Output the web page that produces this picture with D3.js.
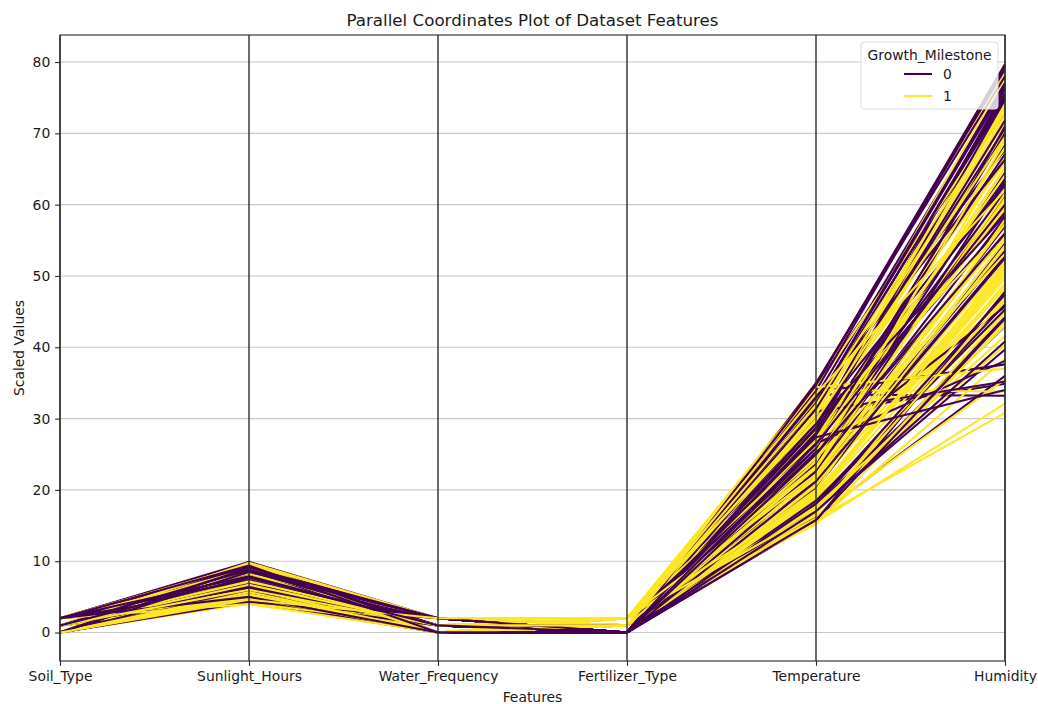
<!DOCTYPE html>
<html>
<head>
<meta charset="utf-8">
<script src="https://cdn.jsdelivr.net/npm/d3@7"></script>
<style>
  body { margin: 0; background: #fff; }
  svg { display: block; }
  text { font-family: "DejaVu Sans", sans-serif; fill: #1a1a1a; }
</style>
</head>
<body>
<svg id="chart" width="1038" height="704"></svg>
<script>
const features = ["Soil_Type", "Sunlight_Hours", "Water_Frequency", "Fertilizer_Type", "Temperature", "Humidity"];
const classLabels = ["0", "1"];
const yTicks = [0, 10, 20, 30, 40, 50, 60, 70, 80];

const growthMilestone = [
  1,0,1,0,1,1,0,0,1,0, 1,0,1,1,0,1,0,0,1,1, 0,1,0,1,1,0,0,1,0,1, 1,0,1,0,0,1,1,0,1,0,
  0,1,1,0,1,0,1,0,0,1, 1,0,0,1,1,0,1,1,0,0, 1,0,1,0,1,1,0,1,0,0, 1,1,0,1,0,0,1,0,1,1,
  0,0,1,1,0,1,0,1,0,1, 1,0,1,0,0,1,1,0,1,0, 0,1,0,1,1,0,1,0,0,1, 1,0,1,1,0,0,1,0,1,0
];
const soilType = [
  2,0,1,2,0,1,2,1,0,0, 1,2,0,1,2,0,1,0,2,1, 0,2,1,0,1,2,0,2,1,0, 2,1,0,2,1,0,1,2,0,1,
  2,0,1,1,0,2,1,0,2,0, 1,2,0,1,2,0,0,1,2,1, 0,2,1,0,2,1,0,1,2,0, 1,0,2,1,0,2,1,0,1,2,
  0,1,2,0,1,0,2,1,0,2, 1,2,0,1,0,2,1,0,2,1, 0,1,2,0,1,2,0,1,2,0, 1,0,2,1,2,0,1,2,0,1
];
const sunlightHours = [
  5.2,8.1,4.6,9.7,6.3,7.8,5.9,4.2,8.9,6.7, 9.3,4.8,7.1,5.5,9.9,6.0,4.4,8.4,7.6,5.0,
  6.9,9.1,4.1,7.3,8.6,5.7,9.5,4.9,6.4,8.0, 7.0,5.3,9.8,4.5,6.6,8.3,5.1,9.2,7.4,4.3,
  6.1,8.8,5.6,9.6,4.7,7.7,6.2,8.5,5.4,9.0, 4.0,7.9,6.8,5.8,9.4,4.6,8.2,7.2,5.0,6.5,
  9.7,4.9,8.7,6.0,5.3,7.5,9.9,4.4,6.9,8.1, 5.6,7.0,4.2,9.3,6.3,8.9,5.1,7.8,4.8,9.0,
  6.6,5.9,8.4,4.1,7.3,9.6,5.5,6.1,8.6,4.7, 7.1,9.2,5.2,6.8,4.5,8.3,7.6,5.8,9.5,6.4,
  4.3,8.0,7.4,5.7,9.8,6.2,4.9,8.8,7.9,5.4, 6.7,9.1,4.0,7.2,5.0,8.5,6.0,9.4,4.6,7.7
];
const waterFrequency = [
  1,2,0,0,1,2,0,1,2,0, 0,1,2,1,0,2,1,0,0,2, 1,0,2,1,0,0,2,1,0,1, 2,0,1,2,0,1,0,2,1,0,
  1,2,0,0,1,2,1,0,2,1, 0,0,1,2,1,0,2,0,1,2, 0,1,2,0,1,0,2,1,0,1, 2,1,0,0,2,1,0,2,1,0,
  1,0,2,1,0,2,1,0,1,2, 0,1,0,2,1,0,1,2,0,1, 2,0,1,0,2,1,0,2,1,0, 1,2,0,1,0,2,1,0,2,1
];
const fertilizerType = [
  2,0,1,0,2,1,0,1,0,0, 1,0,2,2,0,1,0,2,1,2, 0,1,0,2,0,1,0,1,0,2, 1,0,2,0,0,1,2,0,1,0,
  0,2,1,1,2,0,1,0,0,2, 1,0,0,2,1,0,2,0,0,1, 2,0,1,0,1,2,0,1,0,0, 1,2,0,1,0,0,2,0,1,2,
  0,0,2,1,0,1,0,2,0,1, 1,0,2,0,0,2,1,0,1,0, 0,1,0,2,1,0,2,0,1,1, 2,0,1,2,0,0,1,0,2,0
];
const temperature = [
  22.4,31.8,18.7,27.3,34.1,20.5,25.9,16.2,29.6,33.4, 19.8,24.6,30.2,17.5,28.9,35.0,21.3,26.7,15.9,32.5,
  23.8,18.3,34.6,27.9,20.9,30.7,16.8,25.1,33.1,19.4, 28.4,22.0,15.5,31.2,26.3,21.7,34.3,17.9,29.0,24.2,
  32.9,19.1,27.0,23.5,16.4,30.0,25.6,34.8,18.0,28.1, 21.0,33.7,26.0,15.2,29.9,22.8,18.9,31.6,24.9,17.1,
  30.4,20.2,34.0,27.6,23.1,16.0,32.2,19.6,28.6,25.3, 17.7,26.9,33.9,21.9,15.7,29.3,24.4,31.0,20.0,27.2,
  35.0,18.5,23.3,30.9,26.5,16.6,33.0,21.5,28.0,19.0, 24.7,31.4,17.3,27.8,22.6,34.4,20.7,25.8,15.4,29.4,
  32.0,23.0,18.1,26.2,30.6,21.2,16.9,34.7,27.4,24.0, 19.2,28.8,33.5,22.2,15.8,26.4,31.9,17.0,29.7,25.0
];
const humidity = [
  62.3,74.8,45.1,57.6,79.8,51.2,68.4,36.0,71.5,33.2, 48.7,55.9,66.0,40.3,76.2,78.5,52.8,63.7,30.8,69.1,
  58.2,46.5,72.9,60.4,54.0,34.9,44.2,65.3,77.1,49.6, 70.2,53.5,38.4,75.6,61.8,47.0,73.3,42.9,56.8,64.5,
  67.7,50.1,59.3,71.0,35.5,63.0,55.4,79.0,46.0,74.1, 52.0,37.6,69.8,43.5,65.9,57.0,48.3,77.8,61.1,39.7,
  73.8,54.6,33.8,58.9,66.8,44.8,76.9,50.9,62.7,45.7, 41.6,64.1,79.5,56.2,47.8,70.7,53.1,35.2,57.9,68.0,
  78.0,45.3,60.9,72.4,38.1,49.0,66.3,55.0,74.7,51.7, 59.6,75.2,43.0,67.1,63.4,37.0,54.3,70.0,32.1,58.5,
  76.5,61.5,47.4,65.0,72.0,52.5,46.8,79.7,34.0,68.9, 50.5,71.8,62.0,57.3,44.0,60.0,73.0,40.8,69.5,56.0
];

const columns = [soilType, sunlightHours, waterFrequency, fertilizerType, temperature, humidity];
const rows = growthMilestone.map((g, i) => ({ cls: g, values: columns.map(c => c[i]) }));

const svg = d3.select("#chart");
const L = 60, R = 1005, T = 35, B = 661;
const PX = 1.3889; // pt -> px

const allVals = columns.flat();
const vmin = d3.min(allVals), vmax = d3.max(allVals);
const pad = (vmax - vmin) * 0.05;

const x = d3.scaleLinear().domain([0, features.length - 1]).range([L, R]);
const y = d3.scaleLinear().domain([vmin - pad, vmax + pad]).range([B, T]);
const color = d3.scaleOrdinal().domain([0, 1]).range(["#440154", "#fde725"]);

// grid
svg.append("g").selectAll("line").data(yTicks).join("line")
  .attr("x1", L).attr("x2", R)
  .attr("y1", d => y(d)).attr("y2", d => y(d))
  .attr("stroke", "#c8c8c8").attr("stroke-width", 0.8 * PX);

// data lines
const line = d3.line().x((d, i) => x(i)).y(d => y(d));
svg.append("g").selectAll("path").data(rows).join("path")
  .attr("d", d => line(d.values))
  .attr("fill", "none")
  .attr("stroke", d => color(d.cls))
  .attr("stroke-width", 1.5 * PX)
  .attr("stroke-linejoin", "round")
  .attr("stroke-linecap", "butt");

// feature axis lines
svg.append("g").selectAll("line").data(features.map((f, i) => i)).join("line")
  .attr("x1", d => x(d)).attr("x2", d => x(d))
  .attr("y1", T).attr("y2", B)
  .attr("stroke", "#2a2a2a").attr("stroke-width", 1 * PX);

// frame
svg.append("rect").attr("x", L).attr("y", T).attr("width", R - L).attr("height", B - T)
  .attr("fill", "none").attr("stroke", "#2a2a2a").attr("stroke-width", 0.8 * PX);

// axes
const yAxis = svg.append("g").attr("transform", `translate(${L},0)`)
  .call(d3.axisLeft(y).tickValues(yTicks).tickSize(3.5 * PX).tickPadding(3.5 * PX));
const xAxis = svg.append("g").attr("transform", `translate(0,${B})`)
  .call(d3.axisBottom(x).tickValues(features.map((f, i) => i)).tickFormat(i => features[i])
    .tickSize(3.5 * PX).tickPadding(3.5 * PX));
[yAxis, xAxis].forEach(a => {
  a.select(".domain").remove();
  a.selectAll(".tick line").attr("stroke", "#2a2a2a").attr("stroke-width", 0.8 * PX);
  a.selectAll(".tick text").attr("font-family", "DejaVu Sans").attr("font-size", "13.9px").attr("fill", "#1a1a1a");
});

// title & labels
svg.append("text").attr("x", (L + R) / 2).attr("y", T - 8.6)
  .attr("text-anchor", "middle").attr("font-size", "16.7px")
  .text("Parallel Coordinates Plot of Dataset Features");
svg.append("text").attr("x", (L + R) / 2).attr("y", 702)
  .attr("text-anchor", "middle").attr("font-size", "13.9px").text("Features");
svg.append("text").attr("transform", `translate(23.5,${(T + B) / 2}) rotate(-90)`)
  .attr("text-anchor", "middle").attr("font-size", "13.9px").text("Scaled Values");

// legend
const lg = svg.append("g");
lg.append("rect").attr("x", 861).attr("y", 42).attr("width", 137).attr("height", 67)
  .attr("rx", 3).attr("ry", 3)
  .attr("fill", "#fff").attr("fill-opacity", 0.8)
  .attr("stroke", "#dddddd").attr("stroke-width", 1);
lg.append("text").attr("x", 929.5).attr("y", 60).attr("text-anchor", "middle")
  .attr("font-size", "13.9px").text("Growth_Milestone");
const items = lg.selectAll("g.item").data(classLabels).join("g").attr("class", "item")
  .attr("transform", (d, i) => `translate(0,${74 + i * 22})`);
items.append("line").attr("x1", 904).attr("x2", 932).attr("y1", 0).attr("y2", 0)
  .attr("stroke", (d, i) => color(i)).attr("stroke-width", 1.5 * PX);
items.append("text").attr("x", 943).attr("y", 5).attr("font-size", "13.9px").text(d => d);
</script>
</body>
</html>
